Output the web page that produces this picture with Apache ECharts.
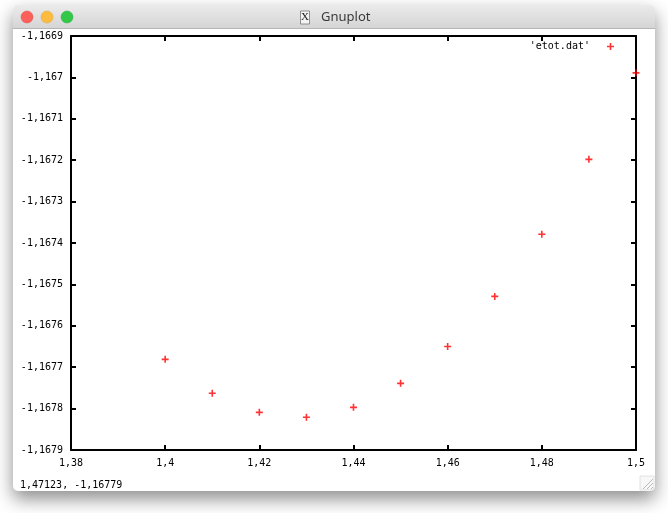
<!DOCTYPE html>
<html>
<head>
<meta charset="utf-8">
<script src="https://cdn.jsdelivr.net/npm/echarts@6/dist/echarts.min.js"></script>
<style>
html,body{margin:0;padding:0;background:#ffffff;}
#chart{width:668px;height:513px;}
</style>
</head>
<body>
<div id="chart"></div>
<script>
// ---- data ----
var xValues = [1.40, 1.41, 1.42, 1.43, 1.44, 1.45, 1.46, 1.47, 1.48, 1.49, 1.50];
var etot = [-1.167681, -1.167763, -1.167809, -1.167821, -1.167797, -1.167739, -1.167650, -1.167529, -1.167379, -1.167198, -1.166989];
var seriesName = "'etot.dat'";
var windowTitle = "Gnuplot";
var statusText = "1,47123, -1,16779";
var xMin = 1.38, xMax = 1.50, xStep = 0.02;
var yMin = -1.1679, yMax = -1.1669, yStep = 0.0001;

var points = xValues.map(function (x, i) { return [x, etot[i]]; });
var plusPath = 'path://M2.7,0H4.3V2.7H7V4.3H4.3V7H2.7V4.3H0V2.7H2.7Z';
var mono = 'DejaVu Sans Mono';

function fmt(dec) {
  return function (v) { return Number(v.toFixed(dec)).toString().replace('.', ','); };
}

var chart = echarts.init(document.getElementById('chart'), null, { renderer: 'canvas' });

var axisCommon = {
  axisLine: { show: true, onZero: false, lineStyle: { color: '#000', width: 2 } },
  axisTick: { show: true, inside: true, length: 5, lineStyle: { color: '#000', width: 2 } },
  splitLine: { show: false }
};

chart.setOption({
  animation: false,
  backgroundColor: 'transparent',
  graphic: [
    { type: 'rect', z: -10, shape: { x: 13, y: 5, width: 642, height: 486, r: 5 },
      style: { fill: '#ffffff', shadowBlur: 18, shadowOffsetY: 8, shadowColor: 'rgba(0,0,0,0.45)' } },
    { type: 'rect', z: -9, shape: { x: 13, y: 5, width: 642, height: 23, r: [5, 5, 0, 0] },
      style: { fill: new echarts.graphic.LinearGradient(0, 0, 0, 1, [{ offset: 0, color: '#ebebeb' }, { offset: 1, color: '#d5d5d5' }]) } },
    { type: 'line', z: -9, shape: { x1: 13, y1: 28.5, x2: 655, y2: 28.5 }, style: { stroke: '#b5b5b5', lineWidth: 1 } },
    { type: 'circle', z: -8, shape: { cx: 27, cy: 17, r: 6 }, style: { fill: '#fc605b', stroke: '#de4a45', lineWidth: 0.5 } },
    { type: 'circle', z: -8, shape: { cx: 47, cy: 17, r: 6 }, style: { fill: '#fdbc40', stroke: '#dea236', lineWidth: 0.5 } },
    { type: 'circle', z: -8, shape: { cx: 67, cy: 17, r: 6 }, style: { fill: '#34c84a', stroke: '#27aa35', lineWidth: 0.5 } },
    { type: 'rect', z: -8, shape: { x: 300.5, y: 11, width: 9, height: 13 }, style: { fill: '#f4f4f4', stroke: '#777', lineWidth: 0.8 } },
    { type: 'text', z: -8, style: { x: 305, y: 17.5, text: 'X', font: '11px "Liberation Serif"', fill: '#222', align: 'center', verticalAlign: 'middle' } },
    { type: 'text', z: -8, style: { x: 321, y: 17, text: windowTitle, font: '13px "Noto Sans"', fill: '#3a3a3a', align: 'left', verticalAlign: 'middle' } },
    { type: 'text', z: -8, style: { x: 20, y: 485, text: statusText, font: '10px "' + mono + '"', fill: '#000', align: 'left', verticalAlign: 'middle' } },
    { type: 'rect', z: -8, shape: { x: 640, y: 476, width: 14, height: 14 }, style: { fill: '#f7f7f7', stroke: '#dcdcdc', lineWidth: 0.8 } },
    { type: 'line', z: -7, shape: { x1: 643, y1: 489, x2: 653, y2: 479 }, style: { stroke: '#aaa', lineWidth: 0.8 } },
    { type: 'line', z: -7, shape: { x1: 647, y1: 489, x2: 653, y2: 483 }, style: { stroke: '#aaa', lineWidth: 0.8 } },
    { type: 'line', z: -7, shape: { x1: 651, y1: 489, x2: 653, y2: 487 }, style: { stroke: '#aaa', lineWidth: 0.8 } }
  ],
  legend: {
    show: true,
    right: 54,
    top: 41.5,
    padding: 0,
    align: 'right',
    itemWidth: 7,
    itemHeight: 7,
    icon: plusPath,
    formatter: function (n) { return n + '  '; },
    textStyle: { fontFamily: mono, fontSize: 10, color: '#000' },
    data: [{ name: seriesName, itemStyle: { color: '#ff0000' } }]
  },
  grid: { left: 71, top: 36, width: 565, height: 414, containLabel: false },
  xAxis: [
    Object.assign({}, axisCommon, {
      type: 'value', position: 'bottom', min: xMin, max: xMax, interval: xStep,
      axisLabel: { show: true, margin: 8, formatter: fmt(2), fontFamily: mono, fontSize: 10, color: '#000' }
    }),
    Object.assign({}, axisCommon, {
      type: 'value', position: 'top', min: xMin, max: xMax, interval: xStep,
      axisLabel: { show: false }
    })
  ],
  yAxis: [
    Object.assign({}, axisCommon, {
      type: 'value', position: 'left', min: yMin, max: yMax, interval: yStep,
      axisLabel: { show: true, margin: 8, formatter: fmt(4), fontFamily: mono, fontSize: 10, color: '#000' }
    }),
    Object.assign({}, axisCommon, {
      type: 'value', position: 'right', min: yMin, max: yMax, interval: yStep,
      axisLabel: { show: false }
    })
  ],
  series: [{
    name: seriesName,
    type: 'scatter',
    xAxisIndex: 0,
    yAxisIndex: 0,
    clip: false,
    symbol: plusPath,
    symbolSize: 7,
    itemStyle: { color: '#ff0000' },
    data: points,
    z: 5
  }]
});
</script>
</body>
</html>
